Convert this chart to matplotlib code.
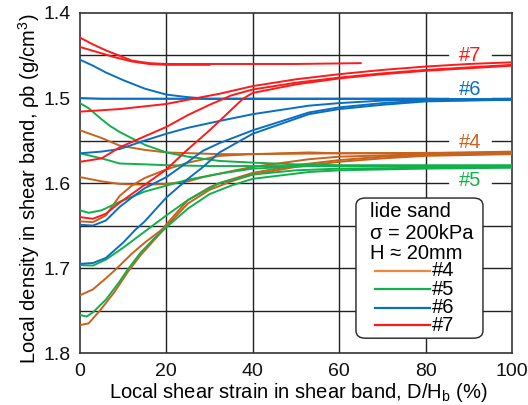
import matplotlib
matplotlib.use("Agg")
import matplotlib.pyplot as plt
from matplotlib.lines import Line2D
from matplotlib.patches import FancyBboxPatch

plt.rcParams['font.family'] = ['Liberation Sans', 'DejaVu Sans']

# ---------------- data ----------------
# #7 (red)
r1_x = [0, 3, 6, 9, 12, 16, 20, 30, 40, 50, 65]
r1_y = [1.429, 1.437, 1.444, 1.450, 1.456, 1.459, 1.460, 1.460, 1.460, 1.460, 1.459]
r2_x = [0, 4, 8, 12, 16, 20, 30]
r2_y = [1.440, 1.446, 1.452, 1.457, 1.460, 1.461, 1.461]
r3_x = [0, 9.2, 20, 25, 32.3, 40, 50, 60, 70, 80, 90, 100]
r3_y = [1.516, 1.513, 1.507, 1.502, 1.495, 1.486, 1.478, 1.472, 1.467, 1.463, 1.460, 1.458]
r4_x = [0, 5, 9.2, 15, 20, 25, 30, 32.3, 35, 40, 50, 60, 70, 80, 90, 100]
r4_y = [1.575, 1.571, 1.558, 1.545, 1.534, 1.520, 1.508, 1.503, 1.497, 1.490, 1.482, 1.476, 1.471, 1.467, 1.464, 1.461]
r5_x = [0, 3, 6, 9.2, 15, 20, 24.6, 30, 32.3, 37.7, 40, 50, 60, 70, 80, 90, 100]
r5_y = [1.640, 1.642, 1.636, 1.623, 1.602, 1.584, 1.562, 1.538, 1.527, 1.501, 1.494, 1.484, 1.477, 1.472, 1.468, 1.465, 1.462]

# #6 (blue)
b1_x = [0, 3, 6, 10, 15, 20, 25, 30, 40, 60, 80, 100]
b1_y = [1.455, 1.462, 1.470, 1.479, 1.489, 1.496, 1.499, 1.501, 1.501, 1.501, 1.501, 1.502]
b2_x = [0, 5, 20, 40, 60, 80, 100]
b2_y = [1.500, 1.501, 1.501, 1.501, 1.501, 1.501, 1.502]
b3_x = [0, 5, 9.2, 15, 20, 25, 32.3, 40, 53, 60, 70, 80, 100]
b3_y = [1.565, 1.563, 1.560, 1.550, 1.542, 1.535, 1.527, 1.519, 1.509, 1.506, 1.503, 1.502, 1.501]
b4_x = [0, 3, 6, 9.2, 12, 15, 20, 25, 28.5, 32.3, 40, 53, 60, 70, 80, 100]
b4_y = [1.649, 1.650, 1.644, 1.628, 1.617, 1.606, 1.593, 1.575, 1.562, 1.553, 1.538, 1.517, 1.511, 1.506, 1.503, 1.502]
b5_x = [0, 3, 6, 10, 12.8, 15, 20, 25, 28.5, 32.3, 40, 53, 60, 70, 80, 100]
b5_y = [1.695, 1.694, 1.688, 1.670, 1.655, 1.645, 1.617, 1.595, 1.581, 1.564, 1.542, 1.519, 1.513, 1.508, 1.504, 1.502]

# #5 (green)
g1_x = [0, 2, 5, 7, 9.2, 15, 20, 25, 32.3, 40, 50, 60, 80, 100]
g1_y = [1.506, 1.512, 1.525, 1.533, 1.540, 1.555, 1.564, 1.569, 1.574, 1.576, 1.578, 1.579, 1.579, 1.579]
g2_x = [0, 5, 9.2, 15, 20, 30, 50, 100]
g2_y = [1.565, 1.571, 1.577, 1.578, 1.579, 1.580, 1.580, 1.580]
g3_x = [0, 2, 5, 9.2, 15, 20, 25, 32.3, 40, 53, 60, 100]
g3_y = [1.632, 1.635, 1.632, 1.622, 1.610, 1.603, 1.596, 1.589, 1.583, 1.580, 1.580, 1.580]
g4_x = [0, 3, 6, 10, 15, 20, 25, 30, 32.3, 40, 50, 60, 80, 100]
g4_y = [1.6965, 1.697, 1.690, 1.676, 1.657, 1.638, 1.620, 1.606, 1.600, 1.590, 1.585, 1.583, 1.582, 1.581]
g5_x = [0, 1.5, 3, 6, 9, 11, 14, 17, 20, 25, 30, 35, 40, 53, 60, 80, 100]
g5_y = [1.755, 1.757, 1.752, 1.737, 1.717, 1.702, 1.682, 1.666, 1.652, 1.630, 1.613, 1.603, 1.595, 1.587, 1.585, 1.583, 1.582]

# #4 (orange)
o1_x = [0, 5, 9.2, 15, 20, 32.3, 40, 53, 60, 80, 100]
o1_y = [1.538, 1.547, 1.556, 1.561, 1.564, 1.566, 1.566, 1.564, 1.565, 1.565, 1.563]
o2_x = [0, 5, 9.2, 15, 20, 25, 28.5, 35, 40, 53, 60, 80, 100]
o2_y = [1.593, 1.598, 1.601, 1.602, 1.601, 1.598, 1.593, 1.586, 1.581, 1.572, 1.569, 1.566, 1.565]
o3_x = [0, 3, 6, 8.6, 12, 15, 18.9, 22, 25, 30, 32.3, 40, 50, 60, 70, 80, 100]
o3_y = [1.732, 1.725, 1.712, 1.700, 1.683, 1.670, 1.655, 1.637, 1.620, 1.605, 1.600, 1.588, 1.579, 1.573, 1.569, 1.567, 1.564]
o4_x = [0, 2, 4.6, 8, 11, 14, 17, 20, 25, 30, 35, 40, 50, 60, 70, 80, 100]
o4_y = [1.767, 1.765, 1.750, 1.728, 1.705, 1.685, 1.668, 1.651, 1.624, 1.608, 1.598, 1.590, 1.581, 1.575, 1.571, 1.568, 1.566]
o5_x = [0, 3, 6, 9.2, 12, 15, 20, 25, 32.3, 40, 60, 100]
o5_y = [1.645, 1.646, 1.638, 1.615, 1.603, 1.594, 1.584, 1.576, 1.568, 1.566, 1.565, 1.564]

series = {
    '#4': [(o1_x, o1_y), (o2_x, o2_y), (o3_x, o3_y), (o4_x, o4_y), (o5_x, o5_y)],
    '#5': [(g1_x, g1_y), (g2_x, g2_y), (g3_x, g3_y), (g4_x, g4_y), (g5_x, g5_y)],
    '#6': [(b1_x, b1_y), (b2_x, b2_y), (b3_x, b3_y), (b4_x, b4_y), (b5_x, b5_y)],
    '#7': [(r1_x, r1_y), (r2_x, r2_y), (r3_x, r3_y), (r4_x, r4_y), (r5_x, r5_y)],
}
line_colors = {'#4': '#C8621C', '#5': '#12B04C', '#6': '#0A6FC2', '#7': '#FF1A1A'}
legend_colors = {'#4': '#F0883C', '#5': '#12B04C', '#6': '#0A6FC2', '#7': '#FF1A1A'}
label_pos = {'#7': 1.450, '#6': 1.4905, '#4': 1.5525, '#5': 1.5965}

x_ticks = [0, 20, 40, 60, 80, 100]
y_ticks = [1.4, 1.5, 1.6, 1.7, 1.8]
y_grid = [1.45, 1.5, 1.55, 1.6, 1.65, 1.7, 1.75]
gap_lines = [1.45, 1.5, 1.55, 1.6]   # gridlines broken behind the "#n" labels

# ---------------- figure ----------------
fig = plt.figure(figsize=(5.28, 4.05), dpi=100)
ax = fig.add_axes([0.1515, 0.128, 0.818, 0.84])

gap_lo, gap_hi = 85.2, 95.4
for yv in y_grid:
    if yv in gap_lines:
        ax.plot([0, gap_lo], [yv, yv], color='#222222', lw=1.0, zorder=1)
        ax.plot([gap_hi, 100], [yv, yv], color='#222222', lw=1.0, zorder=1)
    else:
        ax.axhline(yv, color='#222222', lw=1.0, zorder=1)
for xv in x_ticks[1:-1]:
    ax.axvline(xv, color='#222222', lw=1.0, zorder=1)

for key in ['#4', '#5', '#6', '#7']:
    for xs, ys in series[key]:
        ax.plot(xs, ys, color=line_colors[key], lw=1.4, zorder=3)

for key, yv in label_pos.items():
    ax.text(90.3, yv, key, color=line_colors[key], fontsize=14.5,
            ha='center', va='center', zorder=5)

ax.set_xlim(0, 100)
ax.set_ylim(1.8, 1.4)
ax.set_xticks(x_ticks)
ax.set_yticks(y_ticks)
ax.set_yticklabels(['1.4', '1.5', '1.6', '1.7', '1.8'])
ax.tick_params(length=0, labelsize=14, pad=7, colors='#111111')
for sp in ax.spines.values():
    sp.set_color('#333333')
    sp.set_linewidth(1.2)

ax.set_xlabel('Local shear strain in shear band, D/H$_\\mathregular{b}$ (%)', fontsize=14.5)
ax.set_ylabel('Local density in shear band, ρb (g/cm$^\\mathregular{3}$)', fontsize=14.5)
ax.xaxis.set_label_coords(0.506, -0.083)
ax.yaxis.set_label_coords(-0.087, 0.484)

# legend box
box = FancyBboxPatch((0.639, 0.044), 0.294, 0.412, transform=ax.transAxes,
                     boxstyle='round,pad=0,rounding_size=0.022',
                     fc='white', ec='#222222', lw=1.0, zorder=6)
ax.add_patch(box)
tx = 0.6706
ax.text(tx, 0.4156, 'lide sand', transform=ax.transAxes, fontsize=14.5, va='center', zorder=7)
ax.text(tx, 0.352, 'σ = 200kPa', transform=ax.transAxes, fontsize=14.5, va='center', zorder=7)
ax.text(tx, 0.293, 'H ≈ 20mm', transform=ax.transAxes, fontsize=14.5, va='center', zorder=7)
entry_y = [0.242, 0.188, 0.134, 0.082]
for key, ey in zip(['#4', '#5', '#6', '#7'], entry_y):
    ax.add_line(Line2D([0.683, 0.810], [ey, ey], transform=ax.transAxes,
                       color=legend_colors[key], lw=1.6, zorder=7))
    ax.text(0.815, ey, key, transform=ax.transAxes, fontsize=14.5, va='center', zorder=7)

fig.savefig('out.png', dpi=100)
